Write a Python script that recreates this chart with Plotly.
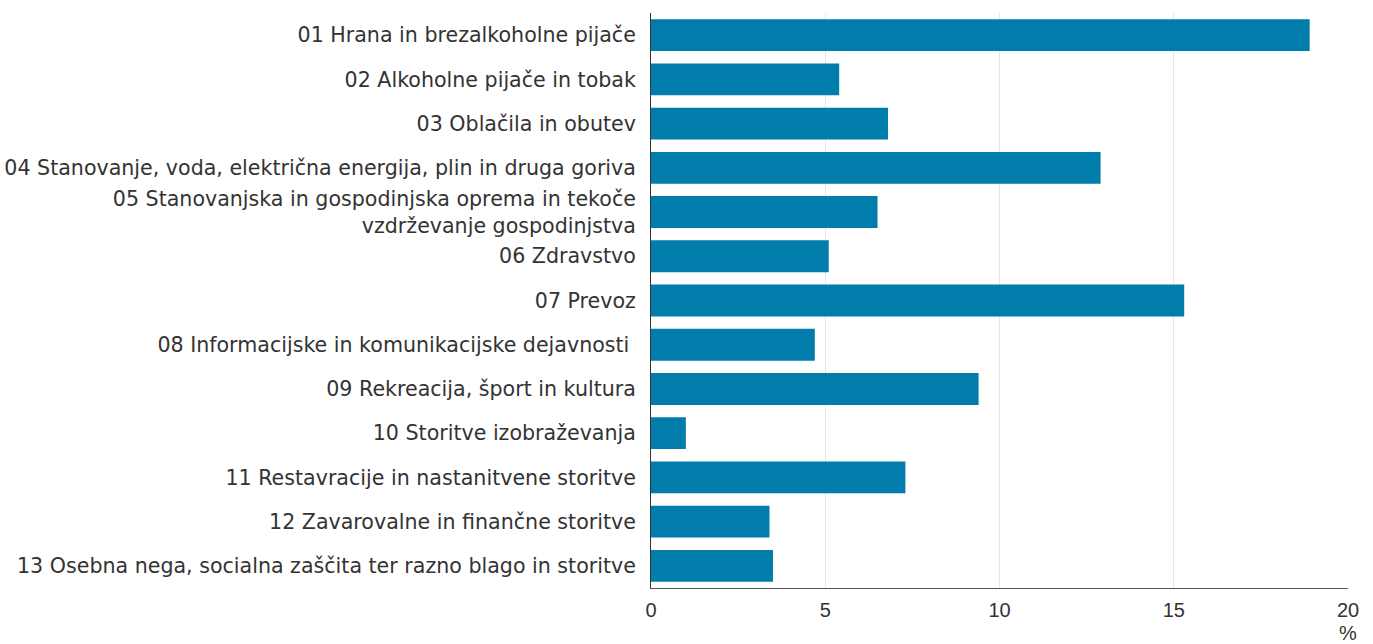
import plotly.graph_objects as go

categories = [
    "01 Hrana in brezalkoholne pijače",
    "02 Alkoholne pijače in tobak",
    "03 Oblačila in obutev",
    "04 Stanovanje, voda, električna energija, plin in druga goriva",
    "05 Stanovanjska in gospodinjska oprema in tekoče<br>vzdrževanje gospodinjstva",
    "06 Zdravstvo",
    "07 Prevoz",
    "08 Informacijske in komunikacijske dejavnosti ",
    "09 Rekreacija, šport in kultura",
    "10 Storitve izobraževanja",
    "11 Restavracije in nastanitvene storitve",
    "12 Zavarovalne in finančne storitve",
    "13 Osebna nega, socialna zaščita ter razno blago in storitve",
]
shares = [18.9, 5.4, 6.8, 12.9, 6.5, 5.1, 15.3, 4.7, 9.4, 1.0, 7.3, 3.4, 3.5]
x_ticks = [0, 5, 10, 15, 20]

fig = go.Figure(
    go.Bar(
        x=shares,
        y=categories,
        orientation="h",
        marker=dict(color="#007DAA", line=dict(width=0)),
        hoverinfo="x+y",
    )
)

fig.update_layout(
    width=1373,
    height=644,
    margin=dict(l=651, r=25, t=13, b=56),
    plot_bgcolor="white",
    paper_bgcolor="white",
    bargap=0.28,
    showlegend=False,
    font=dict(family="Liberation Sans, Arial, sans-serif", size=20, color="#333333"),
    xaxis=dict(
        range=[0, 20],
        tickvals=x_ticks,
        ticktext=[str(v) for v in x_ticks],
        showgrid=True,
        gridcolor="#E6E6E6",
        gridwidth=1,
        zeroline=False,
        showline=True,
        linecolor="#555555",
        linewidth=1,
        ticks="",
        ticklabelstandoff=4,
        automargin=False,
        tickfont=dict(family="Liberation Sans, Arial, sans-serif", size=20, color="#333333"),
    ),
    yaxis=dict(
        autorange="reversed",
        showline=True,
        linecolor="#333333",
        linewidth=1,
        showgrid=False,
        ticks="",
        ticklabelstandoff=10,
        automargin=False,
        tickfont=dict(family="DejaVu Sans, sans-serif", size=20.6, color="#333333"),
    ),
    annotations=[
        dict(
            text="%",
            x=1.0, xref="paper", xanchor="center",
            y=-0.078, yref="paper", yanchor="middle",
            showarrow=False,
            font=dict(family="Liberation Sans, Arial, sans-serif", size=20, color="#333333"),
        )
    ],
)

fig.write_html("out.html")
